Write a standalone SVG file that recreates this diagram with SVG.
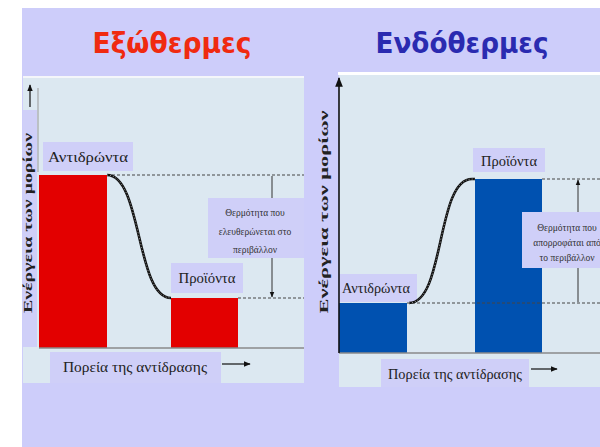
<svg xmlns="http://www.w3.org/2000/svg" width="600" height="447" viewBox="0 0 600 447">
<defs>
<style>
.bg{fill:#cdcdfa}
.panel{fill:#dce8f1}
.lav{fill:#cfcff8}
.red{fill:#e30000}
.blue{fill:#0051b0}
.lbl{font-family:"Liberation Serif","DejaVu Serif",serif;fill:#222;font-size:14px;text-anchor:middle}
.small{font-family:"Liberation Serif","DejaVu Serif",serif;fill:#333;font-size:9.5px;text-anchor:middle}
.ylab{font-family:"Liberation Serif","DejaVu Serif",serif;fill:#222;font-size:11.5px;font-weight:bold;text-anchor:middle}
.title{font-family:"DejaVu Sans","Liberation Sans",sans-serif;font-weight:bold;font-size:28px;text-anchor:middle}
.dash{stroke:#444;stroke-width:1;stroke-dasharray:3 2;fill:none}
.curve{stroke:#111;stroke-width:2.6;fill:none}
.curvein{stroke:#bbb;stroke-width:0.8;stroke-dasharray:1 2;fill:none}
.base{stroke:#8a8a8a;stroke-width:1.5}
</style>
<marker id="ah" viewBox="0 0 10 10" refX="9" refY="5" markerWidth="6" markerHeight="6" orient="auto-start-reverse">
<path d="M0,1 L10,5 L0,9 Z" fill="#111"/>
</marker>
</defs>
<rect x="0" y="0" width="600" height="447" fill="#ffffff"/>
<rect class="bg" x="22" y="8" width="578" height="439"/>

<g id="title-exo">
<text class="title" x="172" y="53" fill="#f02a10" textLength="159" lengthAdjust="spacingAndGlyphs">Εξώθερμες</text>
</g>
<g id="title-endo">
<text class="title" x="462" y="53" fill="#2a2ab0" textLength="173" lengthAdjust="spacingAndGlyphs">Ενδόθερμες</text>
</g>

<g id="panel-exo">
<rect x="23" y="76" width="281" height="2" fill="#f4f6fa"/>
<rect class="panel" x="23" y="78" width="281" height="305"/>
<rect class="lav" x="23" y="110" width="14" height="237"/>
<line x1="38" y1="88" x2="38" y2="172" stroke="#999" stroke-width="1"/>
<text class="ylab" transform="translate(32,223) rotate(-90)" textLength="180" lengthAdjust="spacingAndGlyphs">Ενέργεια των μορίων</text>
</g>

<g id="panel-endo">
<rect x="338" y="72" width="262" height="3" fill="#ffffff"/>
<rect class="panel" x="339" y="75" width="261" height="312"/>
<text class="ylab" transform="translate(328,212) rotate(-90)" textLength="203" lengthAdjust="spacingAndGlyphs">Ενέργεια των μορίων</text>
</g>

<g id="exo-reactants">
<rect class="red" x="39" y="175" width="68" height="173"/>
<rect class="lav" x="43" y="142" width="90" height="29"/>
<text class="lbl" x="88" y="162" textLength="80" lengthAdjust="spacingAndGlyphs">Αντιδρώντα</text>
</g>
<g id="exo-products">
<rect class="red" x="171" y="298" width="67" height="50"/>
<rect class="lav" x="171" y="263" width="72" height="30"/>
<text class="lbl" x="207" y="283" textLength="57" lengthAdjust="spacingAndGlyphs">Προϊόντα</text>
</g>

<g id="endo-reactants">
<rect class="blue" x="339" y="303" width="68" height="50"/>
<rect class="lav" x="339" y="274" width="78" height="28"/>
<text class="lbl" x="376" y="293" textLength="68" lengthAdjust="spacingAndGlyphs">Αντιδρώντα</text>
</g>
<g id="endo-products">
<rect class="blue" x="475" y="179" width="67" height="174"/>
<rect class="lav" x="473" y="148" width="72" height="24"/>
<text class="lbl" x="509" y="166" textLength="56" lengthAdjust="spacingAndGlyphs">Προϊόντα</text>
</g>

<g id="connectors">
<line class="base" x1="39" y1="348" x2="304" y2="348"/>
<line class="base" x1="339" y1="353" x2="600" y2="353"/>
<line class="dash" x1="107" y1="175" x2="304" y2="175"/>
<line class="dash" x1="238" y1="298" x2="304" y2="298"/>
<line class="dash" x1="407" y1="303" x2="600" y2="303"/>
<line class="dash" x1="542" y1="179" x2="600" y2="179"/>
<path class="curve" d="M107,175 C142,175 136,298 171,298"/>
<path class="curvein" d="M107,175 C142,175 136,298 171,298"/>
<path class="curve" d="M409,303 C445,303 436,179 472,179 L475,179"/>
<path class="curvein" d="M409,303 C445,303 436,179 472,179 L475,179"/>
<line x1="272" y1="176" x2="272" y2="297" stroke="#333" stroke-width="1" marker-end="url(#ah)"/>
<line x1="578" y1="302" x2="578" y2="180" stroke="#333" stroke-width="1" marker-end="url(#ah)"/>
<line x1="30" y1="107" x2="30" y2="85" stroke="#111" stroke-width="1.2" marker-end="url(#ah)"/>
<line x1="339" y1="353" x2="339" y2="78" stroke="#111" stroke-width="1.6" marker-end="url(#ah)"/>
<line x1="222" y1="364" x2="250" y2="364" stroke="#111" stroke-width="1.2" marker-end="url(#ah)"/>
<line x1="531" y1="369" x2="557" y2="369" stroke="#111" stroke-width="1.2" marker-end="url(#ah)"/>
</g>

<g id="exo-heat">
<rect class="lav" x="208" y="198" width="96" height="60"/>
<text class="small" x="255" y="216">Θερμότητα που</text>
<text class="small" x="255" y="235">ελευθερώνεται στο</text>
<text class="small" x="255" y="253">περιβάλλον</text>
</g>
<g id="endo-heat">
<rect class="lav" x="522" y="212" width="80" height="56"/>
<text class="small" x="567" y="231">Θερμότητα που</text>
<text class="small" x="567" y="246">απορροφάται από</text>
<text class="small" x="567" y="261">το περιβάλλον</text>
</g>

<g id="exo-xlabel">
<rect class="lav" x="50" y="352" width="171" height="31"/>
<text class="lbl" x="135" y="372" textLength="144" lengthAdjust="spacingAndGlyphs">Πορεία της αντίδρασης</text>
</g>
<g id="endo-xlabel">
<rect class="lav" x="381" y="359" width="148" height="28"/>
<text class="lbl" x="455" y="379" textLength="134" lengthAdjust="spacingAndGlyphs">Πορεία της αντίδρασης</text>
</g>
</svg>
